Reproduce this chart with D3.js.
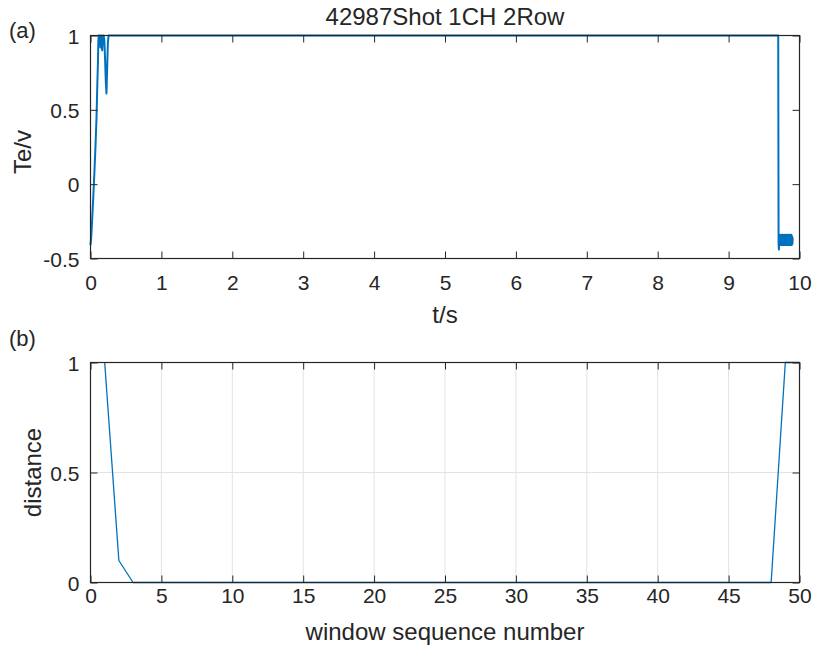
<!DOCTYPE html>
<html>
<head>
<meta charset="utf-8">
<script src="https://cdn.jsdelivr.net/npm/d3@7"></script>
<style>
  html,body{margin:0;padding:0;background:#fff;}
  svg{display:block;font-family:"Liberation Sans",Arial,Helvetica,sans-serif;}
  text{fill:#262626;}
</style>
</head>
<body>
<svg id="chart" width="814" height="657"></svg>
<script>
'use strict';
// ---- data ----
const title='42987Shot 1CH 2Row';
// (a) Te/v signal over time
const tA=[0.00,0.01,0.025,0.04,0.055,0.07,0.085,0.095,0.105,0.11,0.115,0.12,0.13,0.14,0.15,0.16,0.165,0.175,0.185,0.195,0.205,0.215,0.225,0.235,0.245,0.255,0.27,
  9.70,9.705,9.71,9.715,9.72,9.725,9.73,9.735,9.74,9.745,9.75,9.755,9.76,9.765,9.77,9.775,9.78,9.785,9.79,9.795,9.80,9.805,9.81,9.815,9.82,9.825,9.83,9.835,9.84,9.845,9.85,9.855,9.86,9.865,9.87,9.875,9.88,9.885,9.89,9.895,9.90,9.905,9.91];
const vA=[-0.41,-0.36,-0.22,-0.08,0.08,0.25,0.45,0.65,0.82,0.95,1.00,0.97,1.00,0.92,1.00,0.95,0.90,1.00,1.00,0.97,0.85,0.70,0.61,0.78,0.95,1.00,1.00,
  1.00,-0.40,-0.44,-0.35,-0.41,-0.34,-0.40,-0.36,-0.41,-0.34,-0.40,-0.35,-0.41,-0.34,-0.41,-0.35,-0.40,-0.34,-0.41,-0.36,-0.40,-0.34,-0.41,-0.35,-0.40,-0.34,-0.41,-0.36,-0.40,-0.34,-0.41,-0.35,-0.40,-0.34,-0.41,-0.36,-0.40,-0.34,-0.41,-0.35,-0.40,-0.36];
const xTicksA=[0,1,2,3,4,5,6,7,8,9,10];
const yTicksA=[-0.5,0,0.5,1];
// (b) distance per window
const winB=[1,2,3,4,5,6,7,8,9,10,11,12,13,14,15,16,17,18,19,20,21,22,23,24,25,26,27,28,29,30,31,32,33,34,35,36,37,38,39,40,41,42,43,44,45,46,47,48,49,50];
const distB=[1,0.1,0,0,0,0,0,0,0,0,0,0,0,0,0,0,0,0,0,0,0,0,0,0,0,0,0,0,0,0,0,0,0,0,0,0,0,0,0,0,0,0,0,0,0,0,0,0,1,1];
const xTicksB=[0,5,10,15,20,25,30,35,40,45,50];
const yTicksB=[0,0.5,1];

// ---- layout ----
const svg=d3.select('#chart');
const L=90.5,R=799.5, tick=7, axCol='#262626', lineCol='#0072BD';
const tickFont=21, labFont=24;
const fmt=d=>String(d);   // plain hyphen minus, like MATLAB

function panel(o){
  const x=d3.scaleLinear().domain(o.xd).range([L,R]);
  const y=d3.scaleLinear().domain(o.yd).range([o.bot,o.top]);
  const g=svg.append('g');
  if(o.grid){
    g.selectAll('.gx').data(o.xt).join('line').attr('x1',d=>x(d)).attr('x2',d=>x(d))
      .attr('y1',o.top).attr('y2',o.bot).attr('stroke','#e3e3e3').attr('stroke-width',1);
    g.selectAll('.gy').data(o.yt).join('line').attr('y1',d=>y(d)).attr('y2',d=>y(d))
      .attr('x1',L).attr('x2',R).attr('stroke','#e3e3e3').attr('stroke-width',1);
  }
  // data line
  g.append('path').datum(o.xs.map((v,i)=>[v,o.ys[i]]))
    .attr('d',d3.line().x(d=>x(d[0])).y(d=>y(d[1])))
    .attr('fill','none').attr('stroke',lineCol).attr('stroke-width',o.lw).attr('stroke-linejoin','round');
  // inward ticks on all four sides
  const xa=d3.axisBottom(x).tickValues(o.xt).tickSizeInner(-tick).tickSizeOuter(0).tickFormat(fmt);
  const ya=d3.axisLeft(y).tickValues(o.yt).tickSizeInner(-tick).tickSizeOuter(0).tickFormat(fmt);
  const gx=g.append('g').attr('transform',`translate(0,${o.bot})`).call(xa);
  gx.selectAll('text').attr('dy',null).attr('y',o.xlabY-o.bot).style('font-size',tickFont+'px').attr('fill',axCol);
  const gy=g.append('g').attr('transform',`translate(${L},0)`).call(ya);
  gy.selectAll('text').attr('x',-11).attr('dy','0.36em').style('font-size',tickFont+'px').attr('fill',axCol);
  g.append('g').attr('transform',`translate(0,${o.top})`)
    .call(d3.axisTop(x).tickValues(o.xt).tickSizeInner(-tick).tickSizeOuter(0).tickFormat(''));
  g.append('g').attr('transform',`translate(${R},0)`)
    .call(d3.axisRight(y).tickValues(o.yt).tickSizeInner(-tick).tickSizeOuter(0).tickFormat(''));
  g.selectAll('.domain').remove();
  g.selectAll('.tick line').attr('stroke',axCol);
  g.append('rect').attr('x',L).attr('y',o.top).attr('width',R-L).attr('height',o.bot-o.top)
    .attr('fill','none').attr('stroke',axCol).attr('stroke-width',1.2);
  // labels
  g.append('text').attr('x',(L+R)/2).attr('y',o.xtitleY).attr('text-anchor','middle')
    .style('font-size',labFont+'px').text(o.xlabel);
  g.append('text').attr('transform',`translate(${o.ytitleX},${o.ytitleC}) rotate(-90)`)
    .attr('text-anchor','middle').style('font-size',labFont+'px').text(o.ylabel);
  g.append('text').attr('x',9).attr('y',o.tagY).style('font-size','22px').text(o.tag);
}

panel({xd:[0,10],yd:[-0.5,1],top:35.5,bot:258.5,xt:xTicksA,yt:yTicksA,xs:tA,ys:vA,lw:2,grid:false,
  xlabY:290,xtitleY:323,xlabel:'t/s',ytitleX:31,ytitleC:152,ylabel:'Te/v',tagY:38,tag:'(a)'});
panel({xd:[0,50],yd:[0,1],top:362.5,bot:582.5,xt:xTicksB,yt:yTicksB,xs:winB,ys:distB,lw:1.3,grid:true,
  xlabY:603,xtitleY:640,xlabel:'window sequence number',ytitleX:41,ytitleC:472.5,ylabel:'distance',tagY:346,tag:'(b)'});

svg.append('text').attr('x',(L+R)/2).attr('y',25).attr('text-anchor','middle')
  .style('font-size',labFont+'px').text(title);
</script>
</body>
</html>
